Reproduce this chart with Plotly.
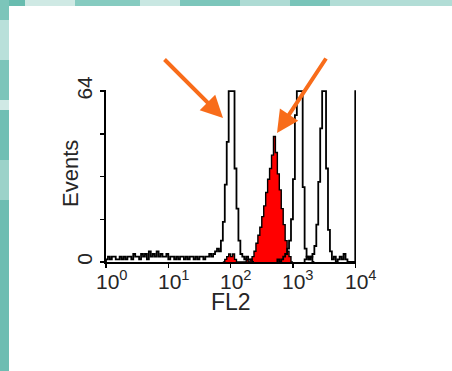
import numpy as np
import plotly.graph_objects as go

# ---------------- data (channel counts, 32 channels per decade) ----------------
CHANNELS_PER_DECADE = 32

# unstained control (black outline), channels 0..75
control_start = 0
control_counts = [1, 2, 1, 2, 2, 1, 1, 2, 1, 2,
                  1, 2, 2, 1, 3, 2, 2, 1, 3, 2,
                  3, 1, 4, 2, 3, 2, 4, 2, 3, 2,
                  2, 3, 1, 2, 2, 1, 2, 1, 2, 2,
                  1, 2, 1, 2, 2, 1, 2, 1, 2, 2,
                  1, 2, 2, 3, 2, 3, 4, 5, 4, 8,
                  15, 29, 45, 64, 64, 64, 35, 20, 8, 3,
                  2, 1, 2, 1, 1, 0]

# PE stained sample (red filled), channels 60..95
pe_start = 60
pe_counts = [0, 1, 2, 3, 2, 3, 1, 0, 0, 0,
             0, 0, 1, 0, 1, 2, 4, 7, 10, 13,
             17, 21, 26, 31, 35, 40, 47, 41, 33, 27,
             20, 14, 8, 4, 2, 0]

# bright bead population 1 (black outline), channels 88..106
bright1_start = 88
bright1_counts = [1, 0, 1, 2, 3, 5, 8, 16, 31, 55, 64, 64, 64, 28, 5, 2, 1, 2, 0]

# bright bead population 2 (black outline), channels 102..128 (128 = off-scale)
bright2_start = 102
bright2_counts = [1, 2, 1, 2, 3, 6, 14, 30, 50, 64, 64, 35, 12, 4, 1, 2, 0,
                  1, 2, 1, 3, 1, 0, 0, 0, 0, 64]

x_tick_exponents = [0, 1, 2, 3, 4]
y_tick_values = [0, 16, 32, 48, 64]
y_tick_text = ["0", "", "", "", "64"]
x_title = "FL2"
y_title = "Events"

# ---------------- figure ----------------
FONT = "Liberation Sans, Arial, sans-serif"
TXT = "#262626"


def step_trace(start, counts, **kw):
    ch = np.arange(start, start + len(counts) + 1)
    edges = 10.0 ** (ch / CHANNELS_PER_DECADE)
    x = np.concatenate([[edges[0]], edges])
    y = [0] + list(counts) + [0]
    return go.Scatter(x=x, y=y, mode="lines", line_shape="hv",
                      hoverinfo="skip", **kw)


fig = go.Figure()
fig.add_trace(step_trace(pe_start, pe_counts, fill="tozeroy", fillcolor="#ff0000",
                         line=dict(color="black", width=1.4)))
fig.add_trace(step_trace(control_start, control_counts, line=dict(color="black", width=1.8)))
fig.add_trace(step_trace(bright1_start, bright1_counts, line=dict(color="black", width=1.8)))
fig.add_trace(step_trace(bright2_start, bright2_counts, line=dict(color="black", width=1.8)))

# pixel helpers for decoration placement (plot area: left, width, bottom, height)
L, W, B, H = 106, 250, 262, 172


def px(v):
    return (v - L) / W


def py(v):
    return (B - v) / H


bands = [
    (0, 0, 25, 6, "#68bcaf"), (25, 0, 75, 6, "#cfe9e4"), (75, 0, 140, 6, "#86cbc0"),
    (140, 0, 180, 6, "#c9e7e2"), (180, 0, 240, 6, "#7cc6bb"), (240, 0, 290, 6, "#aedbd4"),
    (290, 0, 330, 6, "#79c4b9"), (330, 0, 452, 6, "#b2ddd6"),
    (0, 0, 9, 100, "#7cc5ba"), (0, 20, 9, 60, "#b9e0da"), (0, 100, 9, 110, "#d0e9e5"),
    (0, 110, 9, 160, "#70bfb4"), (0, 160, 9, 200, "#9cd2c9"), (0, 200, 9, 371, "#6dbdb2"),
]
shapes = [dict(type="rect", xref="paper", yref="paper", layer="below",
               x0=px(a), x1=px(c), y0=py(d), y1=py(b), fillcolor=col,
               line=dict(width=0)) for a, b, c, d, col in bands]

annotations = []
for k in x_tick_exponents:
    annotations.append(dict(x=k, xref="x", y=0, yref="paper", yanchor="top",
                            xanchor="center", xshift=5.5, yshift=-3, showarrow=False,
                            text=f"10<sup>{k}</sup>",
                            font=dict(family=FONT, size=21, color=TXT)))
annotations.append(dict(x=px(231), y=py(302), xref="paper", yref="paper",
                        xanchor="center", yanchor="middle", showarrow=False,
                        text=x_title, font=dict(family=FONT, size=23, color=TXT)))
annotations.append(dict(x=px(70), y=py(174), xref="paper", yref="paper",
                        xanchor="center", yanchor="middle", showarrow=False, textangle=-90,
                        text=y_title, font=dict(family=FONT, size=22, color=TXT)))
for tip, off in [((223, 118), (-60, -60)), ((277, 133), (50, -76))]:
    annotations.append(dict(x=px(tip[0]), y=py(tip[1]), xref="paper", yref="paper",
                            ax=off[0], ay=off[1], text="", showarrow=True,
                            arrowhead=2, arrowsize=1.1, arrowwidth=4,
                            arrowcolor="#f86c1a"))

axis_common = dict(showline=True, linecolor="black", linewidth=1.6, ticks="outside",
                   ticklen=4, tickwidth=1.5, tickcolor="black", showgrid=False,
                   zeroline=False)

fig.update_layout(
    width=452, height=371,
    margin=dict(l=L, r=452 - L - W, t=B - H, b=371 - B),
    paper_bgcolor="white", plot_bgcolor="white", showlegend=False,
    xaxis=dict(type="log", range=[0, 4.012],
               tickvals=[10 ** k for k in x_tick_exponents], showticklabels=False,
               **axis_common),
    yaxis=dict(range=[0, 64.4], tickvals=y_tick_values, ticktext=y_tick_text,
               tickangle=-90, tickfont=dict(family=FONT, size=21, color=TXT),
               **axis_common),
    shapes=shapes, annotations=annotations,
)

fig.write_html("out.html", config={"displayModeBar": False, "staticPlot": True},
               post_script="document.body.style.margin='0';document.body.style.overflow='hidden';")
